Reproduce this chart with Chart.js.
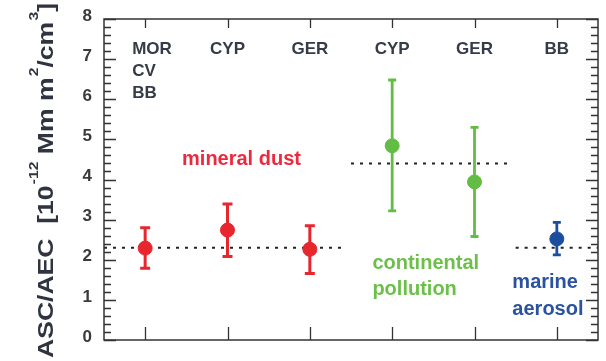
<!DOCTYPE html>
<html>
<head>
<meta charset="utf-8">
<script src="https://cdn.jsdelivr.net/npm/chart.js@4/dist/chart.umd.min.js"></script>
<style>
  html, body { margin: 0; padding: 0; background: #fff; }
  #wrap { width: 606px; height: 361px; }
</style>
</head>
<body>
<div id="wrap"><canvas id="c" width="606" height="361"></canvas></div>
<script>
// Sites along the x axis (one column per measurement site)
const siteX = [1, 2, 3, 4, 5, 6];
const siteLabels = [['MOR', 'CV', 'BB'], ['CYP'], ['GER'], ['CYP'], ['GER'], ['BB']];

// Mineral dust: mean and error range
const dustX    = [1, 2, 3];
const dustMean = [2.29, 2.74, 2.26];
const dustLow  = [1.79, 2.08, 1.66];
const dustHigh = [2.80, 3.39, 2.85];

// Continental pollution
const contX    = [4, 5];
const contMean = [4.84, 3.94];
const contLow  = [3.22, 2.58];
const contHigh = [6.48, 5.30];

// Marine aerosol
const marX    = [6];
const marMean = [2.52];
const marLow  = [2.12];
const marHigh = [2.93];

// Group averages (dotted lines) and the x range each one covers
const dustAvg = 2.3, contAvg = 4.4, marAvg = 2.3;
const dustSpan = [0.5, 3.45];
const contSpan = [3.5, 5.45];
const marSpan  = [5.5, 6.5];

const yTickValues = [0, 1, 2, 3, 4, 5, 6, 7, 8];

const RED = '#e8262e', GREEN = '#62bd45', BLUE = '#1d4e9e';
const INK = '#363b48';
const FONT = '"Liberation Sans", Arial, sans-serif';

function pts(xs, ys, lo, hi) {
  return xs.map((x, i) => ({ x: x, y: ys[i], lo: lo[i], hi: hi[i] }));
}
function avgLine(span, v) {
  return [{ x: span[0], y: v }, { x: span[1], y: v }];
}

const avgStyle = {
  type: 'line', borderColor: '#222', borderWidth: 2, borderDash: [3, 6],
  pointRadius: 0, fill: false, order: 5
};

// Error bars drawn right before each point dataset
const errorBars = {
  id: 'errorBars',
  beforeDatasetDraw(chart, args) {
    const ds = chart.data.datasets[args.index];
    if (!ds.errCap) return;
    const { ctx, scales: { x, y } } = chart;
    ctx.save();
    ctx.strokeStyle = ds.backgroundColor;
    ctx.lineWidth = ds.errWidth;
    ds.data.forEach(p => {
      const px = x.getPixelForValue(p.x);
      const t = y.getPixelForValue(p.hi), b = y.getPixelForValue(p.lo);
      ctx.beginPath();
      ctx.moveTo(px, t); ctx.lineTo(px, b);
      ctx.moveTo(px - ds.errCap, t); ctx.lineTo(px + ds.errCap, t);
      ctx.moveTo(px - ds.errCap, b); ctx.lineTo(px + ds.errCap, b);
      ctx.stroke();
    });
    ctx.restore();
  }
};

// Frame, inward tick marks, tick labels, site labels, group labels and the y-axis title
const decor = {
  id: 'decor',
  afterDraw(chart) {
    const { ctx, chartArea: a, scales: { x, y } } = chart;
    ctx.save();
    ctx.strokeStyle = '#333';
    ctx.lineWidth = 1.5;
    ctx.strokeRect(a.left, a.top, a.right - a.left, a.bottom - a.top);

    ctx.lineWidth = 1.3;
    ctx.beginPath();
    for (let i = 0; i <= 40; i++) {
      const v = i / 5;
      const py = Math.round(y.getPixelForValue(v)) + 0.5;
      const len = (i % 5 === 0) ? 12 : 7;
      ctx.moveTo(a.left, py); ctx.lineTo(a.left + len, py);
      ctx.moveTo(a.right, py); ctx.lineTo(a.right - len, py);
    }
    siteX.forEach(v => {
      const px = Math.round(x.getPixelForValue(v)) + 0.5;
      ctx.moveTo(px, a.bottom); ctx.lineTo(px, a.bottom - 13);
      ctx.moveTo(px, a.top); ctx.lineTo(px, a.top + 9);
    });
    ctx.stroke();

    // y tick labels, sitting slightly above their tick marks
    ctx.fillStyle = '#3a3a3a';
    ctx.font = 'bold 17px ' + FONT;
    ctx.textAlign = 'right';
    ctx.textBaseline = 'middle';
    yTickValues.forEach(v => {
      ctx.fillText(String(v), a.left - 12, y.getPixelForValue(v) - 3);
    });

    // site names
    ctx.fillStyle = INK;
    ctx.font = 'bold 17px ' + FONT;
    ctx.textBaseline = 'alphabetic';
    siteLabels.forEach((lines, i) => {
      const px = x.getPixelForValue(siteX[i]);
      lines.forEach((t, j) => {
        if (lines.length > 1) {
          ctx.textAlign = 'left';
          ctx.fillText(t, px - 13, a.top + 35 + j * 22);
        } else {
          ctx.textAlign = 'center';
          ctx.fillText(t, px, a.top + 35);
        }
      });
    });

    // group names
    ctx.font = 'bold 20px ' + FONT;
    ctx.fillStyle = '#ec2a3e';
    ctx.textAlign = 'center';
    ctx.fillText('mineral dust', x.getPixelForValue(2.17), y.getPixelForValue(4.36));
    ctx.textAlign = 'left';
    ctx.fillStyle = '#6cc04a';
    ctx.fillText('continental', x.getPixelForValue(3.76), y.getPixelForValue(1.76));
    ctx.fillText('pollution', x.getPixelForValue(3.76), y.getPixelForValue(1.12));
    ctx.fillStyle = '#2a52a0';
    ctx.fillText('marine', x.getPixelForValue(5.46), y.getPixelForValue(1.29));
    ctx.fillText('aerosol', x.getPixelForValue(5.46), y.getPixelForValue(0.62));

    // y-axis title with superscripts
    const parts = [
      ['ASC/AEC  [10', false], ['-12', true], [' Mm m', false], ['2', true],
      ['/cm', false], ['3', true], [']', false]
    ];
    const big = 'bold 22px ' + FONT, small = 'bold 13px ' + FONT;
    let total = 0;
    parts.forEach(p => { ctx.font = p[1] ? small : big; total += ctx.measureText(p[0]).width + (p[1] ? 1 : 0); });
    const length = 355;
    ctx.translate(53, 358);
    ctx.rotate(-Math.PI / 2);
    ctx.scale(length / total, 1);
    ctx.fillStyle = '#2f3440';
    ctx.textAlign = 'left';
    let cx = 0;
    parts.forEach(p => {
      ctx.font = p[1] ? small : big;
      ctx.fillText(p[0], cx + (p[1] ? 1 : 0), p[1] ? -15 : 0);
      cx += ctx.measureText(p[0]).width + (p[1] ? 1 : 0);
    });
    ctx.restore();
  }
};

new Chart(document.getElementById('c'), {
  type: 'scatter',
  data: {
    datasets: [
      { label: 'mineral dust', data: pts(dustX, dustMean, dustLow, dustHigh),
        backgroundColor: RED, borderColor: RED, pointRadius: 7, errCap: 5, errWidth: 3, order: 1 },
      { label: 'continental pollution', data: pts(contX, contMean, contLow, contHigh),
        backgroundColor: GREEN, borderColor: GREEN, pointRadius: 7, errCap: 4, errWidth: 2.8, order: 1 },
      { label: 'marine aerosol', data: pts(marX, marMean, marLow, marHigh),
        backgroundColor: BLUE, borderColor: BLUE, pointRadius: 7, errCap: 4, errWidth: 2.8, order: 1 },
      Object.assign({ label: 'dust mean', data: avgLine(dustSpan, dustAvg) }, avgStyle),
      Object.assign({ label: 'pollution mean', data: avgLine(contSpan, contAvg) }, avgStyle),
      Object.assign({ label: 'marine mean', data: avgLine(marSpan, marAvg) }, avgStyle)
    ]
  },
  options: {
    responsive: false,
    animation: false,
    layout: { padding: { left: 0, right: 7, top: 19, bottom: 0 } },
    plugins: { legend: { display: false }, tooltip: { enabled: false } },
    scales: {
      x: {
        type: 'linear', min: 0.5, max: 6.5,
        ticks: { display: false },
        grid: { display: false, drawTicks: false },
        border: { display: false },
        afterFit: s => { s.height = 21; }
      },
      y: {
        min: 0, max: 8,
        afterBuildTicks: s => { s.ticks = yTickValues.map(v => ({ value: v })); },
        ticks: { display: false },
        grid: { display: false, drawTicks: false },
        border: { display: false },
        afterFit: s => { s.width = 104; }
      }
    }
  },
  plugins: [errorBars, decor]
});
</script>
</body>
</html>
